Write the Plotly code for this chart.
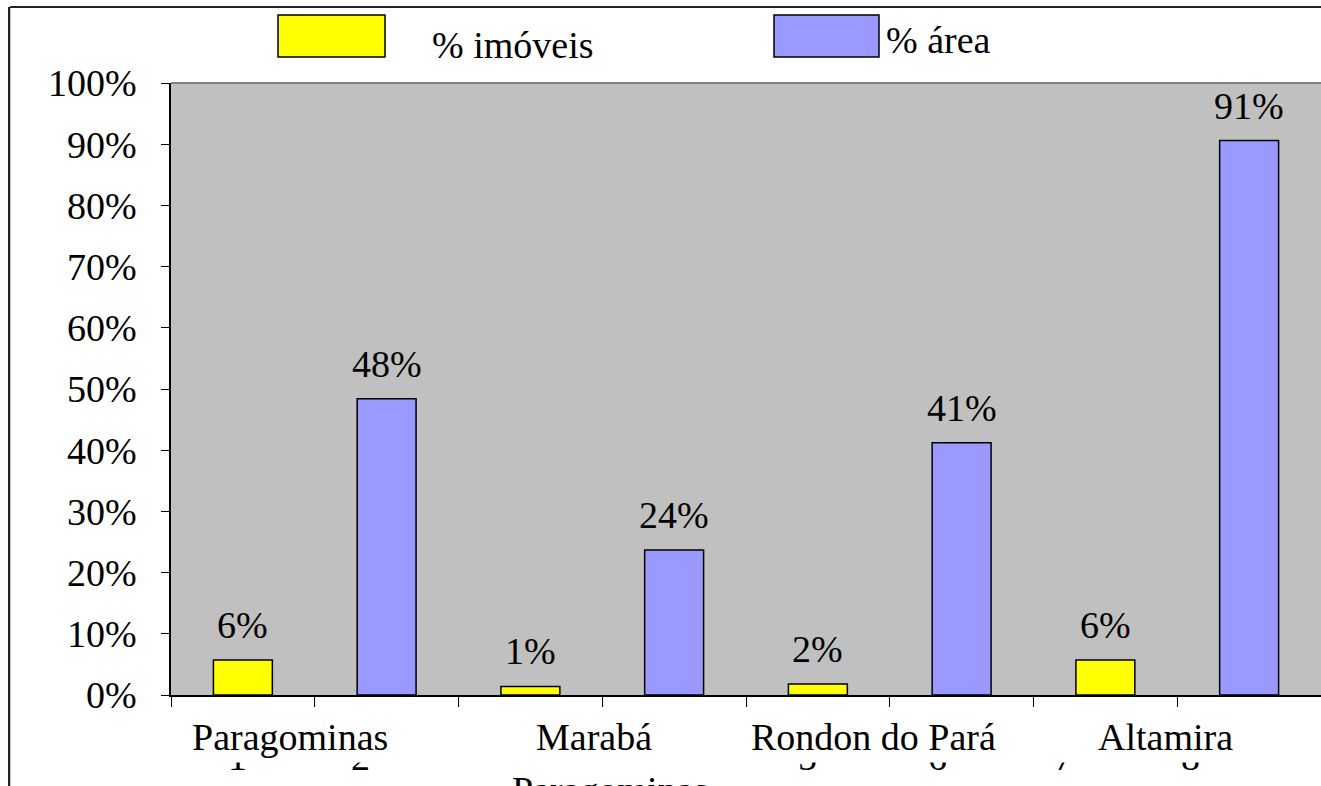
import plotly.graph_objects as go

# ---- data ----
regions = ["Paragominas", "Marabá", "Rondon do Pará", "Altamira"]
pct_imoveis = [0.057, 0.014, 0.018, 0.057]
pct_area = [0.484, 0.237, 0.412, 0.906]
series_names = ["% imóveis", "% área"]
y_ticks = [0.0, 0.1, 0.2, 0.3, 0.4, 0.5, 0.6, 0.7, 0.8, 0.9, 1.0]
hidden_digits = ["1", "2", "5", "6", "7", "8"]

FONT = "Liberation Serif, Times New Roman, serif"
FS = 38
YELLOW = "#FFFF00"
BLUE = "#9999FF"

W, H = 1321, 786
PLOT_L, PLOT_T, PLOT_B = 171, 83, 695


def px_x(p):
    return p / W


def px_y(p):
    return 1 - p / H


# slots: imóveis at even slots, área at odd slots
x_im = [2 * i for i in range(len(regions))]
x_ar = [2 * i + 1 for i in range(len(regions))]

fig = go.Figure()
fig.add_trace(go.Bar(x=x_im, y=pct_imoveis, width=0.41, name=series_names[0],
                     marker=dict(color=YELLOW, line=dict(color="black", width=1.5))))
fig.add_trace(go.Bar(x=x_ar, y=pct_area, width=0.41, name=series_names[1],
                     marker=dict(color=BLUE, line=dict(color="black", width=1.5))))
# empty trace on a tiny subplot whose y-axis line draws the outer frame's left edge
fig.add_trace(go.Scatter(x=[None], y=[None], xaxis="x2", yaxis="y2", showlegend=False,
                         hoverinfo="skip"))

ann = []
# value labels
for xs, vals in ((x_im, pct_imoveis), (x_ar, pct_area)):
    for x, v in zip(xs, vals):
        ann.append(dict(x=x, y=v, xref="x", yref="y", text=f"{round(v * 100)}%",
                        showarrow=False, yanchor="middle", yshift=35,
                        font=dict(family=FONT, size=FS, color="black")))

# partially hidden digits below the axis
digit_px = [237, 360, 807, 937, 1063, 1190]
for d, p in zip(hidden_digits, digit_px):
    ann.append(dict(x=px_x(p), y=px_y(757), xref="paper", yref="paper", text=d,
                    showarrow=False, xanchor="center", yanchor="middle",
                    font=dict(family=FONT, size=FS, color="black")))
# white cover hiding the upper part of the digits
ann.append(dict(x=px_x((PLOT_L + W) / 2), y=px_y(735), xref="paper", yref="paper", text=" ",
                showarrow=False, width=W - PLOT_L - 10, height=54, borderpad=0,
                bgcolor="white", xanchor="center", yanchor="middle",
                font=dict(family=FONT, size=10)))

# region labels
region_x = [0.33, 2.44, 4.39, 6.42]
for r, xr in zip(regions, region_x):
    ann.append(dict(x=xr, y=px_y(737), xref="x", yref="paper", text=r,
                    showarrow=False, xanchor="center", yanchor="middle",
                    font=dict(family=FONT, size=FS, color="black")))
# cut-off label at the bottom
ann.append(dict(x=px_x(510), y=px_y(790), xref="paper", yref="paper", text=regions[0],
                showarrow=False, xanchor="left", yanchor="middle",
                font=dict(family=FONT, size=FS, color="black")))

# legend texts
ann.append(dict(x=px_x(430), y=px_y(45), xref="paper", yref="paper", text=series_names[0],
                showarrow=False, xanchor="left", yanchor="middle",
                font=dict(family=FONT, size=FS, color="black")))
ann.append(dict(x=px_x(884), y=px_y(40), xref="paper", yref="paper", text=series_names[1],
                showarrow=False, xanchor="left", yanchor="middle",
                font=dict(family=FONT, size=FS, color="black")))

shapes = [
    # outer frame top edge
    dict(type="line", xref="paper", yref="paper", x0=px_x(10), x1=1.0,
         y0=px_y(7), y1=px_y(7), line=dict(color="#222222", width=2)),
    # plot area top border
    dict(type="line", xref="paper", yref="paper", x0=px_x(PLOT_L), x1=1, y0=px_y(PLOT_T),
         y1=px_y(PLOT_T), line=dict(color="#808080", width=2)),
    # legend swatches
    dict(type="rect", xref="paper", yref="paper", x0=px_x(278), x1=px_x(385),
         y0=px_y(57), y1=px_y(15), fillcolor=YELLOW, line=dict(color="black", width=1.5)),
    dict(type="rect", xref="paper", yref="paper", x0=px_x(774), x1=px_x(879),
         y0=px_y(57), y1=px_y(15), fillcolor=BLUE, line=dict(color="black", width=1.5)),
]

fig.update_layout(
    width=W, height=H,
    margin=dict(l=0, r=0, t=0, b=0, pad=0),
    paper_bgcolor="white", plot_bgcolor="#C0C0C0",
    barmode="overlay", showlegend=False,
    font=dict(family=FONT, size=FS, color="black"),
    annotations=ann, shapes=shapes,
    xaxis=dict(domain=[px_x(PLOT_L), 1.0], range=[-0.5, 7.5],
               tickvals=[i - 0.5 for i in range(9)],
               showticklabels=False, ticks="outside", ticklen=10, tickwidth=1,
               tickcolor="black", showline=True, linecolor="black", linewidth=1.5,
               showgrid=False, zeroline=False, fixedrange=True, automargin=False),
    yaxis=dict(domain=[px_y(PLOT_B), px_y(PLOT_T)], range=[0, 1], tickvals=y_ticks,
               tickformat=".0%",
               ticks="outside", ticklen=8, tickwidth=1, tickcolor="black",
               showline=True, linecolor="black", linewidth=1.5,
               showgrid=False, zeroline=False, ticklabelstandoff=17, automargin=False,
               tickfont=dict(family=FONT, size=FS, color="black"), fixedrange=True),
    xaxis2=dict(domain=[px_x(10), px_x(11)], anchor="y2", visible=False,
                fixedrange=True, automargin=False),
    yaxis2=dict(domain=[0.0, px_y(7)], anchor="x2", showline=True, linecolor="#222222",
                linewidth=2, showticklabels=False, ticks="", showgrid=False,
                zeroline=False, fixedrange=True, automargin=False),
)

fig.write_html("out.html", config={"displayModeBar": False},
               post_script="document.body.style.margin='0px';document.body.style.overflow='hidden';")
